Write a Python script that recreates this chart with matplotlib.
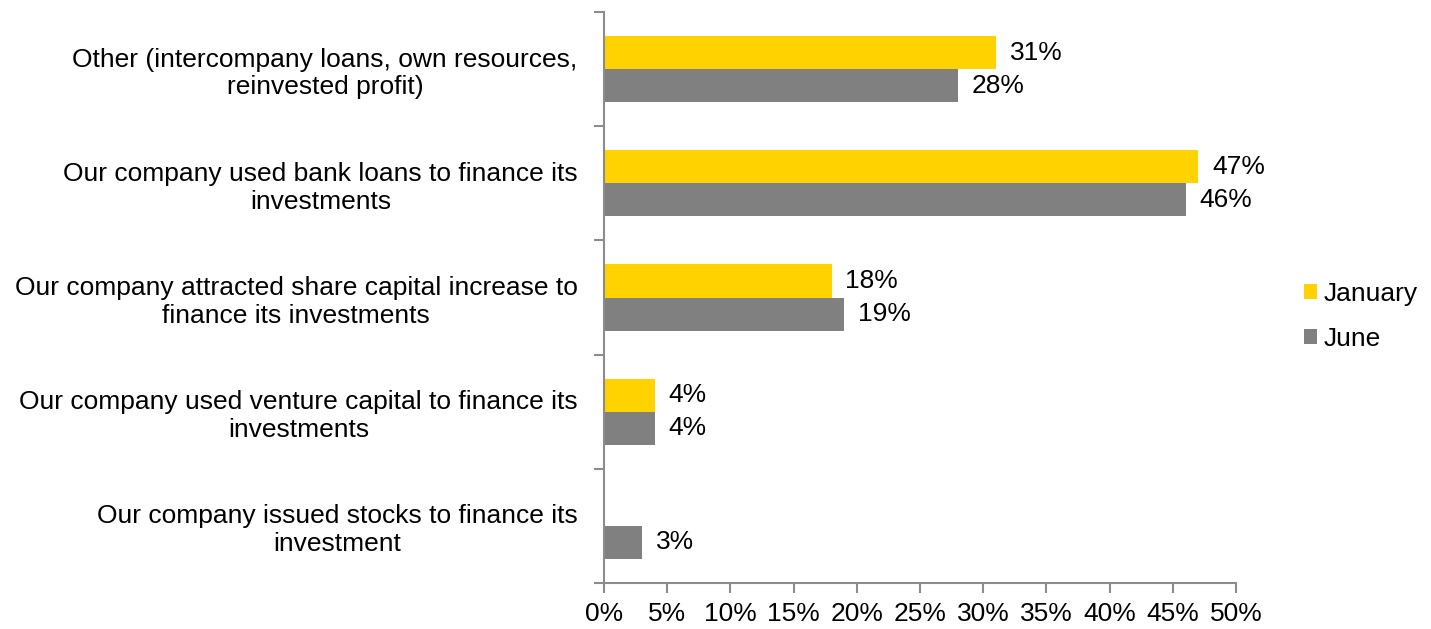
import numpy as np
import matplotlib.pyplot as plt
from matplotlib.ticker import MultipleLocator, FuncFormatter

plt.rcParams['font.family'] = ['Liberation Sans', 'DejaVu Sans']

categories = [
    'Other (intercompany loans, own resources,\nreinvested profit)',
    'Our company used bank loans to finance its\ninvestments',
    'Our company attracted share capital increase to\nfinance its investments',
    'Our company used venture capital to finance its\ninvestments',
    'Our company issued stocks to finance its\ninvestment',
]
january = [31, 47, 18, 4, 0]
june = [28, 46, 19, 4, 3]

GOLD = '#FFD200'
GREY = '#808080'
AXIS = '#8C8C8C'
FS = 19

fig = plt.figure(figsize=(14.31, 6.29), dpi=100)
ax = fig.add_axes([0.4221, 0.0731, 0.4417, 0.9078])

y = np.arange(len(categories))
h = 0.29
bars_jan = ax.barh(y - h / 2, january, height=h, color=GOLD, label='January')
bars_jun = ax.barh(y + h / 2, june, height=h, color=GREY, label='June')

# value labels at the bar ends (no label for empty bars)
for bars, vals in ((bars_jan, january), (bars_jun, june)):
    for b, v in zip(bars, vals):
        if v == 0:
            continue
        ax.annotate(f'{v}%', (v, b.get_y() + b.get_height() / 2),
                    xytext=(10, 0), textcoords='offset points',
                    ha='left', va='center', fontsize=FS)

ax.set_ylim(len(categories) - 0.5, -0.5)
ax.set_xlim(0, 50)
ax.xaxis.set_major_locator(MultipleLocator(5))
ax.xaxis.set_major_formatter(FuncFormatter(lambda v, p: f'{v:.0f}%'))

# y ticks sit on the category boundaries, labels in between
ax.set_yticks(np.arange(-0.5, len(categories)), minor=False)
ax.set_yticklabels([])
ax.set_yticks(y, minor=True)
ax.set_yticklabels(categories, minor=True, fontsize=FS, multialignment='center',
                   linespacing=1.2)
ax.tick_params(axis='y', which='minor', length=0, pad=19)
ax.tick_params(axis='y', which='major', length=7, width=1.5, color=AXIS, direction='out')
ax.tick_params(axis='x', length=7, width=1.5, color=AXIS, direction='out',
               labelsize=FS, pad=7)

for s in ('top', 'right'):
    ax.spines[s].set_visible(False)
for s in ('left', 'bottom'):
    ax.spines[s].set_color(AXIS)
    ax.spines[s].set_linewidth(1.5)

ax.legend(loc='center left', bbox_to_anchor=(1.07, 0.467), frameon=False,
          fontsize=FS, handlelength=0.5, handleheight=0.5, handletextpad=0.25,
          labelspacing=0.8)

fig.savefig('out.png', dpi=100)
